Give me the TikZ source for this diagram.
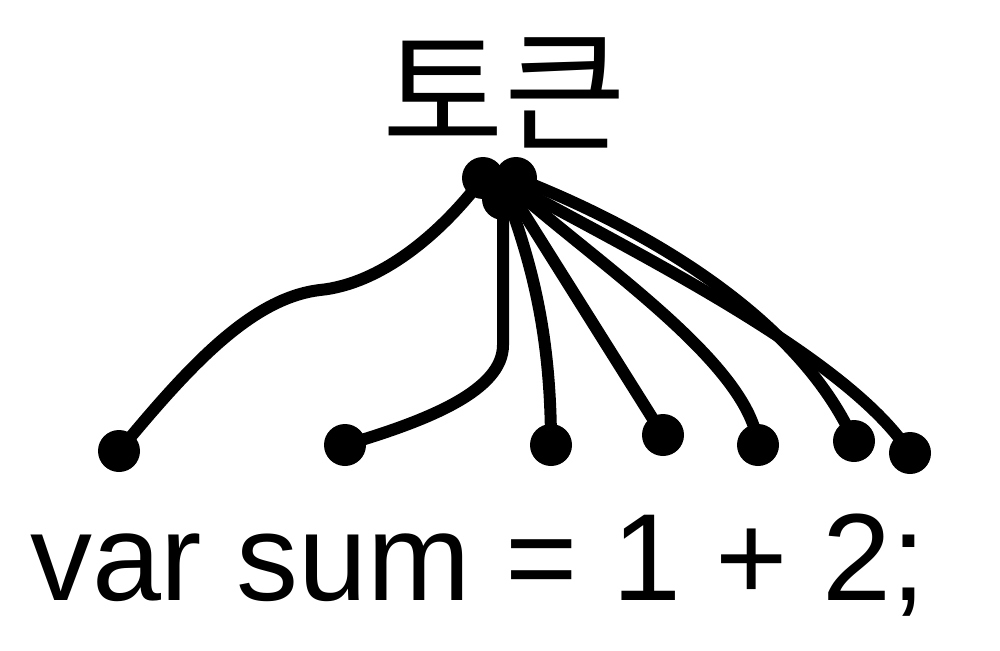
\documentclass[tikz,border=0pt]{standalone}
\usepackage{fontspec}
\setmainfont{Liberation Sans}
\newfontfamily\krfont{Noto Sans CJK KR}
\begin{document}
\begin{tikzpicture}[x=1pt,y=-1pt,
  dot/.style={circle,fill=black,inner sep=0pt,minimum size=42pt},
  conn/.style={line width=12pt,black}]
\useasboundingbox (0,0) rectangle (1000,650);
% titles
\node[anchor=base,inner sep=0pt] (title) at (504,140) {\krfont\fontsize{132}{138}\selectfont 토큰};
\node[anchor=base,inner sep=0pt] (code) at (478,600) {\fontsize{124}{130}\selectfont var sum = 1 + 2;};
% bottom dots
\node[dot] (b1) at (119,451) {};
\node[dot] (b2) at (345,445) {};
\node[dot] (b3) at (551,445) {};
\node[dot] (b4) at (663,435) {};
\node[dot] (b5) at (758,445) {};
\node[dot] (b6) at (854,441) {};
\node[dot] (b7) at (910,453) {};
% top dots
\node[dot] (t1) at (483,178) {};
\node[dot] (t2) at (503,199) {};
\node[dot] (t3) at (507,196) {};
\node[dot] (t4) at (511,193) {};
\node[dot] (t5) at (514,189) {};
\node[dot] (t6) at (516,178) {};
\node[dot] (t7) at (514,186) {};
% connectors
\draw[conn] (b1.center) .. controls (190,365) and (252,298) .. (320,290)
            .. controls (380,284) and (440,235) .. (t1.center);
\draw[conn] (b2.center) .. controls (430,420) and (503,390) .. (503,345) -- (t2.center);
\draw[conn] (b3.center) .. controls (551,330) and (530,260) .. (t3.center);
\draw[conn] (b4.center) -- (t4.center);
\draw[conn] (b5.center) .. controls (750,365) and (600,265) .. (t5.center);
\draw[conn] (b6.center) .. controls (800,320) and (650,230) .. (t6.center);
\draw[conn] (b7.center) .. controls (850,360) and (650,260) .. (t7.center);
\end{tikzpicture}
\end{document}
